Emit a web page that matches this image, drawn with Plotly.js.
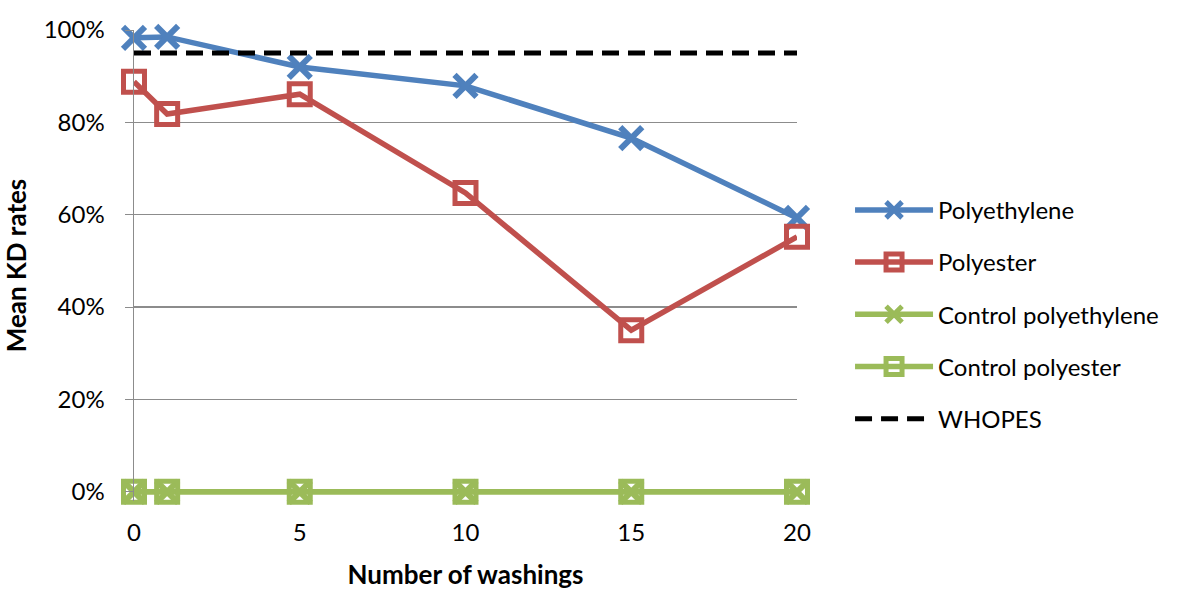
<!DOCTYPE html>
<html>
<head>
<meta charset="utf-8">
<script src="https://cdn.plot.ly/plotly-3.0.1.min.js"></script>
<style>
  body { margin: 0; background: #fff; }
  #chart { width: 1200px; height: 600px; }
</style>
</head>
<body>
<div id="chart"></div>
<script>
// Number of washings
const washings = [0, 1, 5, 10, 15, 20];

// Mean KD rates (fractions)
const polyethylene = [0.983, 0.985, 0.92, 0.879, 0.766, 0.593];
const polyester = [0.888, 0.818, 0.861, 0.647, 0.35, 0.552];
const controlPolyethylene = [0, 0, 0, 0, 0, 0];
const controlPolyester = [0, 0, 0, 0, 0, 0];
const whopesX = [0, 20];
const whopesY = [0.95, 0.95];

const blue = '#4F81BD';
const red = '#C0504D';
const green = '#9BBB59';

function series(name, y, color, symbol, group) {
    const isX = symbol === 'x-thin';
    return {
        type: 'scatter',
        mode: 'lines+markers',
        name: name,
        x: washings,
        y: y,
        legendgroup: group,
        cliponaxis: false,
        line: { color: color, width: 5.5 },
        marker: {
            symbol: symbol,
            size: isX ? 22 : 21,
            color: color,
            line: { color: color, width: isX ? 6 : 5 }
        }
    };
}

const data = [
    series('Polyethylene', polyethylene, blue, 'x-thin', 'g1'),
    series('Polyester', polyester, red, 'square-open', 'g2'),
    series('Control polyethylene', controlPolyethylene, green, 'x-thin', 'g3'),
    series('Control polyester', controlPolyester, green, 'square-open', 'g4'),
    {
        type: 'scatter',
        mode: 'lines',
        name: 'WHOPES',
        x: whopesX,
        y: whopesY,
        legendgroup: 'g5',
        line: { color: '#000', width: 5, dash: '17px,9px' }
    }
];

const layout = {
    width: 1200,
    height: 600,
    paper_bgcolor: '#fff',
    plot_bgcolor: '#fff',
    font: { family: 'Lato, "Open Sans", sans-serif', size: 24, color: '#000' },
    margin: { l: 134, r: 403, t: 30, b: 99, pad: 0 },
    xaxis: {
        range: [0, 20],
        tickvals: [0, 5, 10, 15, 20],
        showgrid: false,
        zeroline: false,
        showline: false,
        ticks: '',
        ticklabelstandoff: 15,
        tickfont: { size: 24 },
        title: { text: '<b>Number of washings</b>', font: { size: 26 }, standoff: 20 }
    },
    yaxis: {
        range: [-0.02, 1],
        tickvals: [0, 0.2, 0.4, 0.6, 0.8, 1],
        tickformat: '.0%',
        showgrid: true,
        gridcolor: '#8c8c8c',
        gridwidth: 1.5,
        zeroline: false,
        showline: true,
        linecolor: '#8c8c8c',
        linewidth: 1.5,
        ticks: 'outside',
        ticklen: 8,
        tickcolor: '#8c8c8c',
        ticklabelstandoff: 15,
        tickfont: { size: 24 },
        title: { text: '<b>Mean KD rates</b>', font: { size: 26 }, standoff: 14 }
    },
    showlegend: true,
    legend: {
        x: 1.08,
        xanchor: 'left',
        y: 0.665,
        yanchor: 'top',
        font: { size: 24 },
        tracegroupgap: 18,
        itemwidth: 78,
        bgcolor: 'rgba(0,0,0,0)'
    }
};

Plotly.newPlot('chart', data, layout, { displayModeBar: false, staticPlot: true });
</script>
</body>
</html>
